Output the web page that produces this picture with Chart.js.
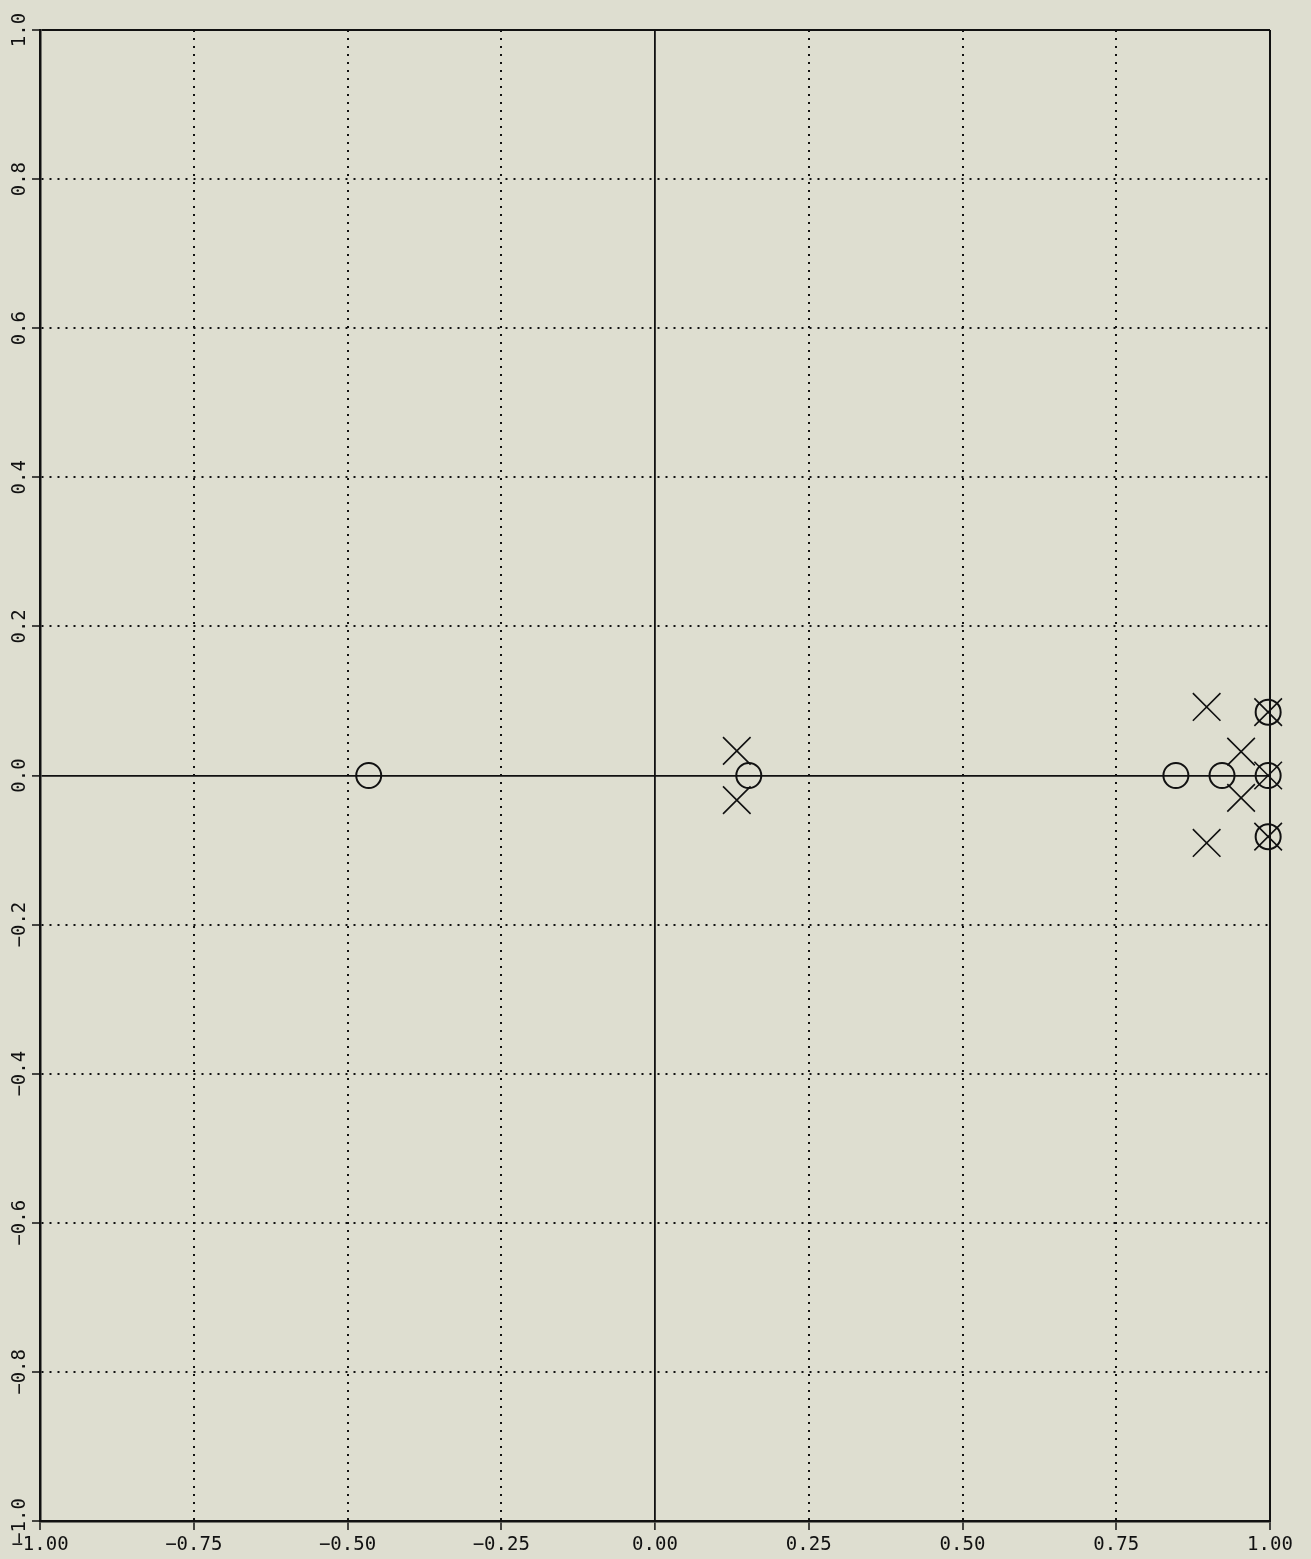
<!DOCTYPE html>
<html>
<head>
<meta charset="utf-8">
<script src="https://cdn.jsdelivr.net/npm/chart.js@4/dist/chart.umd.min.js"></script>
<style>
  html, body { margin: 0; padding: 0; background: rgb(222, 222, 208); }
  canvas { display: block; }
</style>
</head>
<body>
<canvas id="chart" width="1311" height="1559"></canvas>
<script>
// zeros (o) and poles (x)
const zerosX = [-0.4655, 0.1525, 0.847, 0.922, 0.997, 0.997, 0.997];
const zerosY = [0, 0, 0, 0, 0.085, 0, -0.082];
const polesX = [0.133, 0.133, 0.897, 0.897, 0.953, 0.953, 0.997, 0.997, 0.997];
const polesY = [0.033, -0.033, 0.092, -0.0905, 0.032, -0.030, 0.085, 0, -0.082];

const xTickLabels = ['\u22121.00', '\u22120.75', '\u22120.50', '\u22120.25', '0.00', '0.25', '0.50', '0.75', '1.00'];
const yTickLabels = ['\u22121.0', '\u22120.8', '\u22120.6', '\u22120.4', '\u22120.2', '0.0', '0.2', '0.4', '0.6', '0.8', '1.0'];

const toPoints = (xs, ys) => xs.map((x, i) => ({ x: x, y: ys[i] }));

const ink = '#111';
const font = { family: '"DejaVu Sans Mono", monospace', size: 19 };

// solid for the axes through zero and the frame edges, dotted elsewhere
const gridDash = (ctx) => {
  const v = ctx.tick ? ctx.tick.value : null;
  if (v === null) return [2, 6];
  if (Math.abs(v) < 1e-9 || Math.abs(Math.abs(v) - 1) < 1e-9) return [];
  return [2, 6];
};
const gridWidth = (ctx) => {
  const v = ctx.tick ? ctx.tick.value : null;
  if (v !== null && Math.abs(v) < 1e-9) return 1.8;
  return 2;
};

new Chart(document.getElementById('chart'), {
  type: 'scatter',
  data: {
    datasets: [
      {
        label: 'zeros',
        data: toPoints(zerosX, zerosY),
        pointStyle: 'circle',
        pointRadius: 12.5,
        pointBorderWidth: 2,
        pointBorderColor: ink,
        pointBackgroundColor: 'rgba(0,0,0,0)',
        clip: false,
      },
      {
        label: 'poles',
        data: toPoints(polesX, polesY),
        pointStyle: 'crossRot',
        pointRadius: 19.5,
        pointBorderWidth: 1.6,
        pointBorderColor: ink,
        clip: false,
      },
    ],
  },
  options: {
    responsive: false,
    animation: false,
    layout: { padding: { top: 30, right: 41, left: 0, bottom: 0 } },
    plugins: {
      legend: { display: false },
      tooltip: { enabled: false },
    },
    scales: {
      x: {
        type: 'linear',
        min: -1,
        max: 1,
        afterFit: (s) => { s.height = 38; },
        ticks: {
          stepSize: 0.25,
          color: ink,
          font: font,
          padding: 4,
          maxRotation: 0,
          autoSkip: false,
          callback: (value, index) => xTickLabels[index],
        },
        grid: {
          color: ink,
          lineWidth: gridWidth,
          tickLength: 9,
          tickColor: ink,
          tickWidth: 1.5,
        },
        border: { display: true, color: ink, width: 2.5, dash: gridDash },
      },
      y: {
        type: 'linear',
        min: -1,
        max: 1,
        afterFit: (s) => { s.width = 40; },
        ticks: {
          stepSize: 0.2,
          color: ink,
          font: font,
          minRotation: 90,
          maxRotation: 90,
          crossAlign: 'center',
          padding: -11,
          autoSkip: false,
          callback: (value, index) => yTickLabels[index],
        },
        grid: {
          color: ink,
          lineWidth: gridWidth,
          tickLength: 8,
          tickColor: ink,
          tickWidth: 1.5,
        },
        border: { display: true, color: ink, width: 2.5, dash: gridDash },
      },
    },
  },
});
</script>
</body>
</html>
